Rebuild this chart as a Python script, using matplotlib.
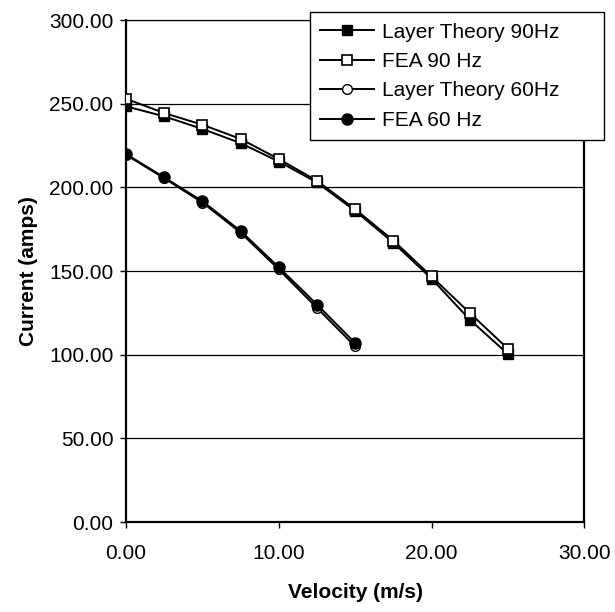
import matplotlib
matplotlib.use("Agg")
import matplotlib.pyplot as plt
from matplotlib.ticker import FormatStrFormatter, MultipleLocator

plt.rcParams['font.family'] = ['Liberation Sans', 'DejaVu Sans']

vel_90 = [0, 2.5, 5, 7.5, 10, 12.5, 15, 17.5, 20, 22.5, 25]
layer_90 = [248.5, 242.5, 235.0, 226.5, 215.5, 203.0, 186.0, 167.0, 145.5, 121.0, 100.5]
fea_90 = [253.0, 244.5, 237.5, 229.0, 217.0, 204.0, 187.0, 168.3, 146.8, 125.0, 103.6]

vel_60 = [0, 2.5, 5, 7.5, 10, 12.5, 15]
layer_60 = [219.5, 205.5, 191.0, 173.0, 151.0, 128.0, 105.0]
fea_60 = [220.0, 206.0, 191.8, 174.0, 152.3, 130.0, 107.0]

labels = ["Layer Theory 90Hz", "FEA 90 Hz", "Layer Theory 60Hz", "FEA 60 Hz"]

fig = plt.figure(figsize=(6.15, 6.12), dpi=100)
ax = fig.add_axes([0.205, 0.147, 0.745, 0.820])

lw = 1.4
ax.plot(vel_90, layer_90, color='black', lw=lw, marker='s', ms=7.2,
        mfc='black', mec='black', mew=1.0, label=labels[0], zorder=3)
ax.plot(vel_90, fea_90, color='black', lw=lw, marker='s', ms=7.5,
        mfc='white', mec='black', mew=1.2, label=labels[1], zorder=4)
ax.plot(vel_60, layer_60, color='black', lw=lw, marker='o', ms=7.0,
        mfc='white', mec='black', mew=1.0, label=labels[2], zorder=3)
ax.plot(vel_60, fea_60, color='black', lw=lw, marker='o', ms=8.0,
        mfc='black', mec='black', mew=1.0, label=labels[3], zorder=4)

ax.set_xlim(0, 30)
ax.set_ylim(0, 300)
ax.xaxis.set_major_locator(MultipleLocator(10))
ax.yaxis.set_major_locator(MultipleLocator(50))
ax.xaxis.set_major_formatter(FormatStrFormatter('%.2f'))
ax.yaxis.set_major_formatter(FormatStrFormatter('%.2f'))
ax.yaxis.grid(True, color='black', lw=0.9)
ax.set_axisbelow(True)
ax.tick_params(axis='both', direction='out', length=4, width=1, labelsize=15,
               colors='black', pad=5)
ax.tick_params(axis='x', pad=12)
for side in ['left', 'bottom', 'right']:
    ax.spines[side].set_linewidth(1.6)
ax.spines['top'].set_linewidth(0.9)

ax.set_xlabel("Velocity (m/s)", fontsize=15, fontweight='bold', labelpad=14)
ax.set_ylabel("Current (amps)", fontsize=15, fontweight='bold', labelpad=8)

leg = fig.legend(loc='upper left',
                 bbox_to_anchor=(0.504, 0.758, 0.478, 0.222),
                 bbox_transform=fig.transFigure, mode='expand',
                 fontsize=15, frameon=True,
                 fancybox=False, framealpha=1, edgecolor='black',
                 borderpad=0.5, labelspacing=0.5, handlelength=2.55,
                 handletextpad=0.4, borderaxespad=0)
leg.get_frame().set_linewidth(1.0)

fig.savefig("out.png", dpi=100)
